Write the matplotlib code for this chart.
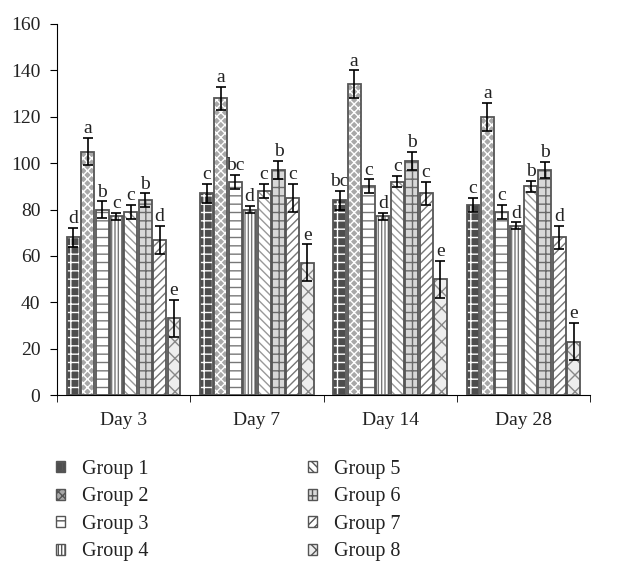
import matplotlib
matplotlib.use("Agg")
import matplotlib.pyplot as plt
import numpy as np
from matplotlib.patches import Patch

plt.rcParams['font.family'] = ['Liberation Serif', 'DejaVu Serif']

days = ["Day 3", "Day 7", "Day 14", "Day 28"]
groups = ["Group 1", "Group 2", "Group 3", "Group 4", "Group 5", "Group 6", "Group 7", "Group 8"]

g1 = [68, 87, 84, 82]
g2 = [105, 128, 134, 120]
g3 = [80, 92, 90, 79]
g4 = [77, 80, 77, 73]
g5 = [79, 88, 92, 90]
g6 = [84, 97, 101, 97]
g7 = [67, 85, 87, 68]
g8 = [33, 57, 50, 23]

e1 = [4, 4, 4, 3]
e2 = [6, 5, 6, 6]
e3 = [3.5, 3, 3, 3]
e4 = [1.5, 1.5, 1.5, 1.5]
e5 = [3, 3, 2.5, 2.5]
e6 = [3, 4, 4, 3.5]
e7 = [6, 6, 5, 5]
e8 = [8, 8, 8, 8]

l1 = ["d", "c", "bc", "c"]
l2 = ["a", "a", "a", "a"]
l3 = ["b", "bc", "c", "c"]
l4 = ["c", "d", "d", "d"]
l5 = ["c", "c", "c", "b"]
l6 = ["b", "b", "b", "b"]
l7 = ["d", "c", "c", "d"]
l8 = ["e", "e", "e", "e"]

values = [g1, g2, g3, g4, g5, g6, g7, g8]
errors = [e1, e2, e3, e4, e5, e6, e7, e8]
letters = [l1, l2, l3, l4, l5, l6, l7, l8]

# (facecolor, hatch, hatch color)
styles = [
    ("#4d4d4d", "++", "white"),
    ("#a8a8a8", "xxxx", "white"),
    ("white", "--", "#777777"),
    ("white", "|||||", "#777777"),
    ("white", "\\\\\\\\", "#999999"),
    ("#d8d8d8", "++", "#6a6a6a"),
    ("white", "////", "#777777"),
    ("#eeeeee", "xx", "#888888"),
]

plt.rcParams['hatch.linewidth'] = 1.0

fig = plt.figure(figsize=(6.18, 5.77), dpi=100)
ax = fig.add_axes([57/618, 1-395/577, 533/618, 371/577])

x = np.arange(len(days))
step = 0.108
width = 0.097
edge = "#555555"
fs = 14
tc = "#222222"

for i in range(8):
    pos = x + (i - 3.5) * step
    fc, hatch, hc = styles[i]
    ax.bar(pos, values[i], width, color=fc, edgecolor=hc, hatch=hatch, linewidth=0, zorder=2)
    ax.bar(pos, values[i], width, fill=False, edgecolor=edge, linewidth=1.3, zorder=3)
    ax.errorbar(pos, values[i], yerr=errors[i], fmt='none', ecolor='black',
                elinewidth=1.2, capsize=3.5, capthick=1.2, zorder=4)
    for j in range(len(days)):
        ax.text(pos[j], values[i][j] + errors[i][j] + 0.3, letters[i][j],
                ha='center', va='bottom', fontsize=fs, color=tc)

ax.set_xlim(-0.5, 3.5)
ax.set_ylim(0, 160)
ax.set_yticks(np.arange(0, 161, 20))
ax.set_xticks(x)
ax.set_xticklabels(days)
ax.set_xticks(np.arange(-0.5, 3.6, 1), minor=True)
ax.tick_params(axis='x', which='major', length=0, labelsize=fs, pad=12, labelcolor=tc)
ax.tick_params(axis='x', which='minor', length=5, direction='out')
ax.tick_params(axis='y', labelsize=fs, length=5, direction='out', pad=7, labelcolor=tc)
for s in ['top', 'right']:
    ax.spines[s].set_visible(False)

handles = []
for i in range(8):
    fc, hatch, hc = styles[i]
    handles.append(Patch(facecolor=fc, edgecolor=edge, hatch=hatch, linewidth=1.0, label=groups[i]))

common = dict(frameon=False, loc='upper left', fontsize=14.5, handlelength=0.45,
              handleheight=0.45, labelspacing=0.42, handletextpad=0.85,
              borderpad=0, borderaxespad=0, labelcolor=tc)
fig.legend(handles=handles[:4], labels=groups[:4],
           bbox_to_anchor=(56/618, 1-460/577), **common)
fig.legend(handles=handles[4:], labels=groups[4:],
           bbox_to_anchor=(308/618, 1-460/577), **common)

fig.savefig("out.png", dpi=100)
